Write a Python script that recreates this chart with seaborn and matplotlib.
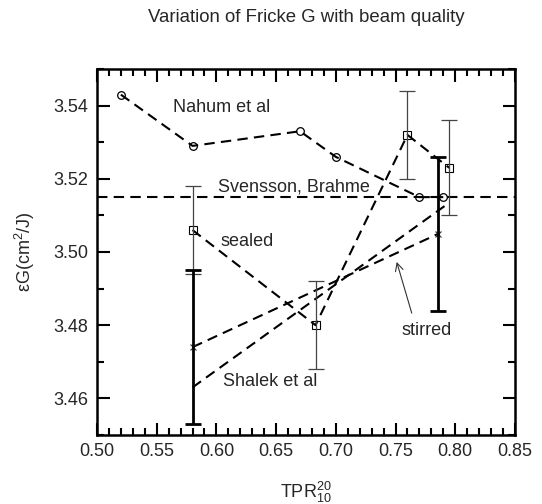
import matplotlib
matplotlib.use("Agg")
import matplotlib.pyplot as plt
import seaborn as sns
import numpy as np
import pandas as pd

# ---- data ----
nahum_x = [0.52, 0.58, 0.67, 0.70, 0.77, 0.79]
nahum_y = [3.543, 3.529, 3.533, 3.526, 3.515, 3.515]

svensson_y = 3.515

sealed_x = [0.58, 0.683, 0.76, 0.795]
sealed_y = [3.506, 3.480, 3.532, 3.523]
sealed_err = [0.012, 0.012, 0.012, 0.013]

stirred_x = [0.58, 0.786]
stirred_y = [3.474, 3.505]
stirred_err = [0.021, 0.021]

shalek_x = [0.58, 0.793]
shalek_y = [3.463, 3.513]

title = "Variation of Fricke G with beam quality"
xlabel = r"TPR$^{20}_{10}$"
ylabel = r"εG(cm$^2$/J)"

# ---- style ----
sns.set_style("ticks")
plt.rcParams["font.family"] = ["Liberation Sans", "DejaVu Sans"]
plt.rcParams["mathtext.fontset"] = "custom"
plt.rcParams["mathtext.rm"] = "Liberation Sans"
plt.rcParams["mathtext.it"] = "Liberation Sans"
plt.rcParams["mathtext.default"] = "regular"

FS = 13
fig = plt.figure(figsize=(5.42, 5.04), dpi=100)
ax = fig.add_axes([0.179, 0.137, 0.771, 0.726])

dash = (0, (5, 3))
lw = 1.5

# Svensson, Brahme horizontal line
ax.axhline(svensson_y, color="black", lw=lw, linestyle=dash, zorder=2)

# Nahum et al
sns.lineplot(x=nahum_x, y=nahum_y, ax=ax, color="black", lw=lw, linestyle=dash,
             marker="o", markersize=5.5, markerfacecolor="none",
             markeredgecolor="black", markeredgewidth=0.9, sort=False)

# sealed
sns.lineplot(x=sealed_x, y=sealed_y, ax=ax, color="black", lw=lw, linestyle=dash,
             marker="s", markersize=5.5, markerfacecolor="none",
             markeredgecolor="black", markeredgewidth=0.8, sort=False)
ax.errorbar(sealed_x, sealed_y, yerr=sealed_err, fmt="none", ecolor="#444444",
            elinewidth=0.9, capsize=6, capthick=0.9, zorder=3)

# stirred
sns.lineplot(x=stirred_x, y=stirred_y, ax=ax, color="black", lw=lw, linestyle=dash,
             marker="x", markersize=5, markeredgecolor="#333333",
             markeredgewidth=0.8, sort=False)
ax.errorbar(stirred_x, stirred_y, yerr=stirred_err, fmt="none", ecolor="black",
            elinewidth=2.0, capsize=5.5, capthick=2.0, zorder=3)

# Shalek et al
sns.lineplot(x=shalek_x, y=shalek_y, ax=ax, color="black", lw=lw, linestyle=dash,
             sort=False)

# annotations
ax.text(0.5637, 3.5396, "Nahum et al", fontsize=FS, va="center", ha="left")
ax.text(0.6013, 3.5178, "Svensson, Brahme", fontsize=FS, va="center", ha="left")
ax.text(0.6038, 3.5028, "sealed", fontsize=FS, va="center", ha="left")
ax.text(0.6053, 3.4646, "Shalek et al", fontsize=FS, va="center", ha="left")
ax.text(0.7551, 3.4785, "stirred", fontsize=FS, va="center", ha="left")
ax.annotate("", xy=(0.751, 3.4973), xytext=(0.7636, 3.4833),
            arrowprops=dict(arrowstyle="->", color="#333333", lw=0.8,
                            mutation_scale=14, shrinkA=0, shrinkB=0))

# axes
ax.set_xlim(0.50, 0.85)
ax.set_ylim(3.45, 3.55)
ax.set_xticks(np.arange(0.50, 0.851, 0.05))
ax.set_xticks(np.arange(0.50, 0.851, 0.01), minor=True)
ax.set_yticks([3.46, 3.48, 3.50, 3.52, 3.54])
ax.set_yticks(np.arange(3.45, 3.551, 0.01), minor=True)
ax.set_xticklabels([f"{v:.2f}" for v in np.arange(0.50, 0.851, 0.05)])
ax.set_yticklabels([f"{v:.2f}" for v in [3.46, 3.48, 3.50, 3.52, 3.54]])

ax.tick_params(which="both", direction="in", top=True, right=True,
               labelsize=FS, color="black", width=1.5, pad=6)
ax.tick_params(which="major", length=9)
ax.tick_params(which="minor", length=5)
for s in ax.spines.values():
    s.set_linewidth(1.8)
    s.set_color("black")

ax.set_xlabel(xlabel, fontsize=FS, labelpad=14)
ax.set_ylabel(ylabel, fontsize=FS, labelpad=12)
ax.set_title(title, fontsize=13.4, pad=34)

fig.savefig("out.png", dpi=100)
